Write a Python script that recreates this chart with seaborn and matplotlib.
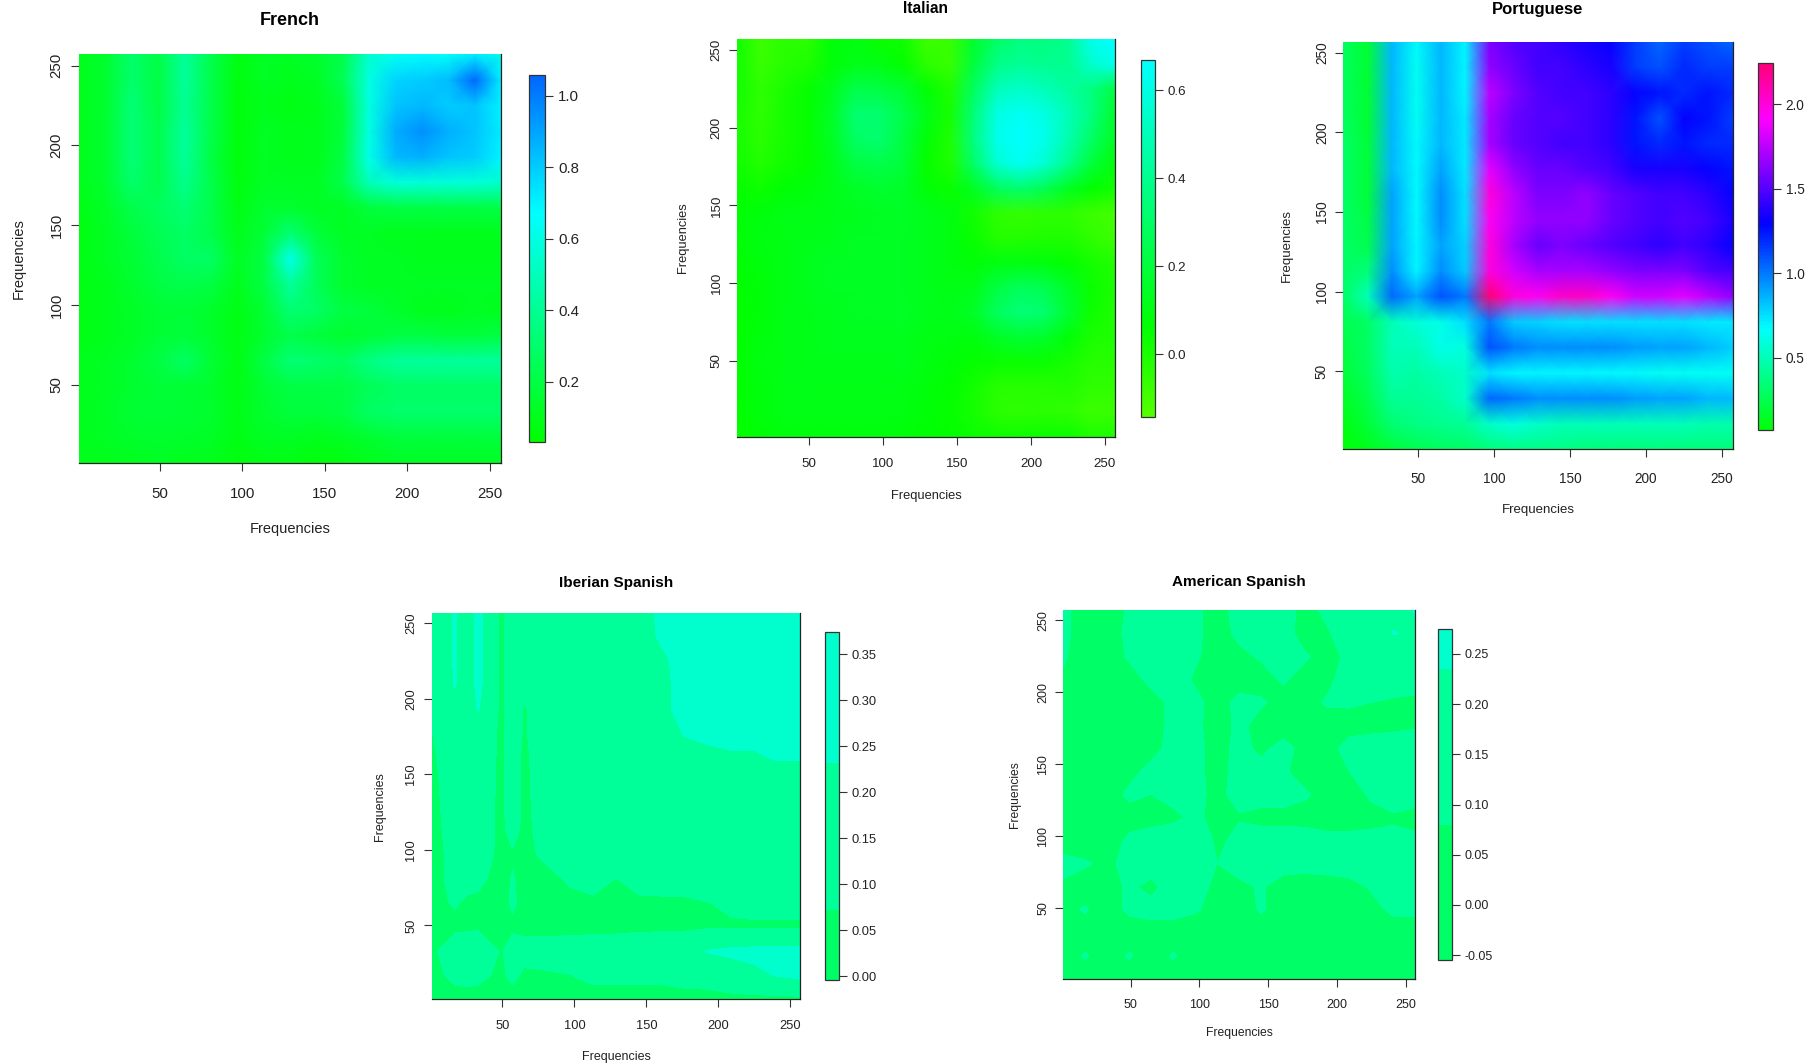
# Five language panels: frequency by frequency matrices
import numpy as np
import pandas as pd
import matplotlib
matplotlib.use("Agg")
import matplotlib.pyplot as plt
import seaborn as sns
from matplotlib.colors import BoundaryNorm, LinearSegmentedColormap, ListedColormap, hsv_to_rgb

# grid nodes, same on both axes
freqs = [1, 17, 33, 49, 65, 81, 97, 113, 129, 145, 161, 177, 193, 209, 225, 241, 257]
# the Iberian panel has two more columns for its narrow stripes
iberian_freqs = [1, 17, 25, 33, 49, 57, 65, 81, 97, 113, 129, 145, 161, 177, 193, 209, 225, 241, 257]
freq_ticks = [50, 100, 150, 200, 250]

# rows run from the lowest frequency up
french = [
    [.10, .10, .10, .12, .10, .10, .07, .08, .08, .06, .07, .10, .12, .12, .12, .12, .12],
    [.10, .12, .14, .15, .14, .13, .08, .12, .12, .10, .12, .15, .18, .18, .18, .18, .18],
    [.10, .13, .16, .17, .16, .15, .09, .15, .18, .18, .20, .28, .30, .30, .30, .30, .30],
    [.10, .12, .15, .17, .16, .14, .08, .16, .20, .20, .20, .25, .28, .28, .28, .28, .28],
    [.10, .12, .15, .20, .28, .17, .08, .20, .32, .30, .27, .36, .42, .42, .42, .42, .42],
    [.08, .10, .13, .16, .18, .14, .08, .15, .22, .18, .15, .17, .20, .20, .18, .18, .20],
    [.08, .10, .13, .16, .17, .14, .08, .16, .32, .28, .20, .18, .14, .10, .10, .12, .10],
    [.08, .10, .15, .20, .22, .20, .10, .20, .42, .25, .15, .12, .12, .12, .12, .12, .12],
    [.08, .12, .16, .22, .28, .28, .12, .20, .62, .25, .15, .12, .12, .10, .10, .10, .10],
    [.07, .12, .18, .24, .28, .22, .10, .17, .32, .18, .12, .12, .10, .10, .10, .10, .10],
    [.08, .13, .22, .26, .32, .22, .08, .15, .15, .12, .12, .18, .20, .20, .20, .20, .20],
    [.10, .15, .30, .22, .38, .22, .07, .12, .12, .12, .22, .50, .58, .58, .58, .58, .55],
    [.10, .15, .33, .22, .42, .20, .06, .12, .10, .10, .20, .62, .85, .87, .82, .80, .70],
    [.10, .15, .33, .22, .42, .22, .06, .12, .10, .10, .18, .60, .88, .95, .87, .82, .72],
    [.10, .15, .33, .20, .40, .22, .06, .10, .08, .10, .18, .60, .82, .85, .80, .82, .70],
    [.10, .15, .30, .20, .42, .22, .07, .12, .10, .12, .24, .60, .78, .80, .84, 1.05, .72],
    [.10, .15, .30, .20, .42, .22, .08, .12, .12, .15, .22, .55, .64, .68, .65, .72, .62],
]

italian = [
    [.05, .07, .09, .09, .09, .09, .09, .08, .07, .06, .04, .03, .03, .04, .04, .00, .00],
    [.06, .09, .11, .11, .11, .11, .11, .10, .08, .05, .01, -.04, -.05, -.04, -.05, -.08, -.07],
    [.06, .09, .11, .12, .11, .11, .11, .11, .09, .06, .02, -.03, -.03, -.03, -.02, -.05, -.05],
    [.06, .10, .11, .12, .12, .12, .12, .13, .10, .08, .05, .04, .04, .04, .01, -.03, -.03],
    [.06, .09, .11, .12, .13, .13, .13, .13, .11, .10, .09, .15, .18, .16, .08, .00, -.01],
    [.06, .08, .11, .12, .13, .14, .14, .15, .13, .12, .15, .28, .34, .32, .18, .03, -.01],
    [.06, .08, .11, .13, .14, .14, .14, .14, .13, .11, .12, .22, .28, .25, .15, .04, .00],
    [.07, .09, .11, .13, .14, .14, .14, .14, .13, .10, .08, .10, .10, .09, .06, .01, -.02],
    [.08, .10, .11, .12, .13, .14, .14, .14, .13, .10, .04, -.02, -.02, -.01, -.01, -.05, -.08],
    [.07, .09, .11, .11, .12, .13, .14, .15, .13, .10, .02, -.05, -.06, -.05, -.05, -.08, -.10],
    [.05, .03, .07, .09, .12, .15, .17, .16, .08, .04, .14, .28, .32, .26, .14, .06, .02],
    [.02, -.02, .02, .05, .12, .22, .24, .20, .05, -.01, .30, .56, .64, .56, .40, .20, .08],
    [.01, -.04, .01, .05, .14, .30, .32, .22, .08, -.01, .36, .62, .67, .62, .48, .30, .14],
    [.01, -.05, .01, .05, .15, .32, .32, .24, .12, .01, .34, .60, .64, .60, .50, .36, .16],
    [.02, -.05, .00, .05, .13, .24, .22, .18, .07, -.01, .28, .50, .54, .50, .44, .36, .22],
    [.02, -.07, -.03, -.01, .08, .12, .11, .06, -.04, -.07, .20, .38, .42, .40, .40, .55, .62],
    [.03, -.08, -.04, -.04, .08, .10, .04, .03, -.08, -.07, .16, .30, .36, .36, .40, .62, .67],
]

portuguese = [
    [.08, .12, .20, .25, .28, .30, .35, .38, .38, .38, .35, .35, .35, .35, .35, .35, .35],
    [.10, .20, .33, .38, .40, .42, .55, .60, .55, .50, .50, .50, .50, .50, .50, .48, .48],
    [.15, .25, .42, .42, .45, .55, 1.05, 1.00, .95, .95, .95, .95, .92, .90, .90, .85, .85],
    [.20, .28, .48, .45, .50, .55, .75, .70, .70, .70, .70, .68, .68, .65, .65, .65, .65],
    [.22, .30, .50, .50, .62, .60, 1.10, 1.00, .95, .95, .95, .95, .92, .90, .90, .85, .80],
    [.25, .30, .50, .58, .62, .75, 1.00, .80, .78, .75, .75, .75, .75, .75, .75, .72, .72],
    [.30, .50, 1.05, .90, 1.10, 1.00, 2.25, 2.00, 1.95, 2.05, 2.05, 1.95, 1.80, 1.80, 1.85, 1.75, 1.65],
    [.30, .35, .95, .70, .95, .80, 2.00, 1.80, 1.70, 1.70, 1.70, 1.65, 1.60, 1.60, 1.60, 1.50, 1.45],
    [.30, .25, .90, .70, .90, .78, 2.00, 1.70, 1.55, 1.60, 1.55, 1.50, 1.45, 1.40, 1.45, 1.40, 1.30],
    [.30, .22, .90, .68, .95, .75, 1.95, 1.75, 1.65, 1.65, 1.65, 1.55, 1.50, 1.45, 1.50, 1.45, 1.35],
    [.30, .20, .90, .68, .95, .75, 2.00, 1.75, 1.60, 1.60, 1.65, 1.55, 1.50, 1.45, 1.45, 1.40, 1.30],
    [.30, .20, .85, .68, .90, .72, 1.85, 1.65, 1.55, 1.55, 1.50, 1.45, 1.35, 1.35, 1.35, 1.30, 1.25],
    [.30, .20, .85, .68, .85, .72, 1.70, 1.55, 1.50, 1.45, 1.45, 1.40, 1.25, 1.20, 1.25, 1.20, 1.20],
    [.28, .18, .85, .65, .85, .72, 1.70, 1.55, 1.50, 1.50, 1.45, 1.40, 1.25, 1.10, 1.30, 1.25, 1.15],
    [.28, .18, .85, .65, .85, .70, 1.75, 1.60, 1.50, 1.45, 1.45, 1.40, 1.30, 1.25, 1.20, 1.25, 1.20],
    [.28, .18, .85, .65, .85, .70, 1.65, 1.55, 1.45, 1.45, 1.40, 1.35, 1.15, 1.10, 1.20, 1.15, 1.15],
    [.28, .18, .85, .68, .85, .70, 1.60, 1.50, 1.45, 1.40, 1.35, 1.30, 1.15, 1.05, 1.15, 1.10, 1.05],
]

iberian = [
    [.03, .03, .03, .03, .03, .03, .03, .03, .03, .03, .03, .03, .03, .03, .03, .04, .04, .04, .04],
    [.04, .10, .11, .10, .05, .10, .05, .06, .07, .10, .10, .10, .10, .12, .13, .16, .20, .24, .27],
    [.05, .14, .16, .20, .06, .13, .12, .12, .13, .14, .15, .15, .16, .18, .24, .26, .27, .27, .27],
    [.04, .05, .05, .05, .03, .05, .04, .04, .04, .04, .04, .05, .05, .05, .06, .06, .06, .06, .06],
    [.05, .08, .06, .05, .03, .09, .04, .04, .04, .05, .05, .05, .05, .05, .07, .09, .10, .10, .10],
    [.04, .10, .10, .10, .03, .08, .04, .04, .09, .12, .07, .12, .13, .14, .14, .15, .15, .15, .15],
    [.04, .10, .11, .12, .05, .06, .04, .10, .11, .12, .13, .14, .14, .15, .15, .15, .15, .15, .15],
    [.05, .10, .12, .13, .05, .11, .05, .11, .12, .13, .14, .14, .15, .15, .15, .15, .15, .15, .15],
    [.05, .11, .12, .13, .05, .12, .05, .12, .13, .14, .15, .15, .15, .15, .15, .15, .15, .15, .15],
    [.05, .12, .13, .14, .05, .12, .05, .13, .14, .14, .15, .15, .15, .16, .16, .16, .16, .18, .18],
    [.06, .12, .14, .15, .05, .12, .05, .14, .14, .15, .15, .15, .16, .18, .20, .22, .22, .24, .24],
    [.07, .13, .14, .16, .05, .13, .06, .14, .15, .15, .15, .16, .18, .24, .26, .26, .26, .26, .26],
    [.08, .14, .14, .24, .05, .13, .06, .14, .15, .15, .15, .16, .20, .28, .29, .29, .29, .29, .29],
    [.08, .24, .14, .27, .05, .13, .12, .14, .15, .15, .15, .16, .20, .28, .29, .29, .29, .29, .29],
    [.08, .25, .14, .27, .05, .13, .12, .14, .15, .15, .15, .18, .21, .28, .29, .29, .29, .29, .29],
    [.08, .25, .14, .27, .05, .13, .12, .14, .15, .15, .15, .18, .25, .28, .29, .29, .29, .29, .29],
    [.08, .25, .14, .27, .05, .13, .12, .14, .15, .15, .15, .18, .26, .28, .29, .29, .29, .29, .29],
]

american = [
    [.05, .03, .03, .03, .03, .03, .03, .03, .03, .03, .03, .03, .03, .03, .03, .04, .04],
    [.03, .09, .03, .09, .03, .09, .03, .03, .03, .03, .03, .03, .03, .03, .04, .05, .04],
    [.03, .03, .03, .03, .03, .03, .03, .03, .03, .03, .03, .03, .03, .03, .03, .03, .03],
    [.05, .09, .03, .10, .12, .12, .09, .05, .04, .09, .04, .03, .03, .03, .05, .10, .10],
    [.07, .04, .03, .10, .05, .14, .13, .05, .06, .09, .04, .04, .04, .05, .09, .12, .12],
    [.10, .09, .06, .11, .14, .20, .13, .08, .12, .13, .12, .11, .12, .13, .13, .14, .14],
    [.05, .03, .03, .10, .12, .14, .20, .05, .12, .13, .13, .12, .10, .10, .10, .10, .10],
    [.05, .03, .03, .04, .05, .06, .10, .05, .07, .05, .05, .05, .05, .05, .06, .07, .05],
    [.05, .03, .03, .10, .08, .11, .11, .05, .12, .12, .12, .09, .05, .05, .09, .12, .12],
    [.05, .03, .03, .05, .11, .12, .11, .04, .12, .11, .09, .05, .05, .08, .10, .10, .10],
    [.07, .03, .03, .03, .05, .11, .11, .04, .11, .06, .11, .05, .05, .11, .13, .13, .13],
    [.05, .03, .03, .03, .05, .10, .10, .04, .10, .05, .04, .04, .04, .05, .05, .06, .07],
    [.05, .03, .03, .03, .05, .10, .10, .05, .10, .09, .05, .05, .09, .09, .08, .07, .06],
    [.07, .04, .04, .05, .10, .12, .07, .04, .05, .05, .09, .05, .06, .12, .12, .12, .12],
    [.09, .04, .04, .09, .12, .12, .09, .05, .06, .09, .12, .09, .05, .10, .14, .14, .14],
    [.10, .04, .04, .10, .12, .12, .10, .04, .10, .13, .12, .04, .07, .14, .14, .24, .22],
    [.10, .04, .04, .09, .12, .12, .10, .04, .12, .13, .12, .05, .10, .14, .14, .20, .24],
]

# colour bar ticks
french_ticks = [.2, .4, .6, .8, 1.0]
italian_ticks = [0, .2, .4, .6]
portuguese_ticks = [.5, 1.0, 1.5, 2.0]
iberian_ticks = [0, .05, .10, .15, .20, .25, .30, .35]
american_ticks = [-.05, 0, .05, .10, .15, .20, .25]

french_range = (.03, 1.058)
italian_range = (-.142, .668)
portuguese_range = (.075, 2.247)
# steps of the two flat looking maps
iberian_steps = [-.004, .072, .232, .374]
american_steps = [-.055, .08, .235, .275]
step_colors = ["#00FF66", "#00FF99", "#00FFCC"]

W, H = 1816, 1063
SCALE = 1816 / 1568  # positions below are read at 1568 wide

sns.set_theme(style="white")
plt.rcParams["font.family"] = ["Liberation Sans", "DejaVu Sans"]
fig = plt.figure(figsize=(W / 100, H / 100), dpi=100)


def hue_map(lo, hi):
    hues = np.linspace(lo, hi, 64) / 360
    hsv = np.column_stack([hues, np.ones(64), np.ones(64)])
    return LinearSegmentedColormap.from_list("hues", hsv_to_rgb(hsv))


def to_axes(x0, x1, y0, y1):
    return [x0 * SCALE / W, 1 - y1 * SCALE / H, (x1 - x0) * SCALE / W, (y1 - y0) * SCALE / H]


def to_grid(f):
    return (f - freqs[0]) / (freqs[1] - freqs[0])


def draw_panel(values, title, box, bar, ticks, tick_fmt, pos, sizes, hues=None, limits=None, steps=None, cols=freqs):
    ax = fig.add_axes(to_axes(*box))
    cax = fig.add_axes(to_axes(*bar))
    data = pd.DataFrame(values, index=freqs, columns=cols)
    last = to_grid(freqs[-1])

    if steps is None:
        sns.heatmap(data, ax=ax, cbar_ax=cax, cmap=hue_map(*hues), vmin=limits[0], vmax=limits[1],
                    xticklabels=False, yticklabels=False, shading="gouraud")
    else:
        sns.heatmap(data, ax=ax, cbar_ax=cax, cmap=ListedColormap(step_colors),
                    norm=BoundaryNorm(steps, 3), xticklabels=False, yticklabels=False,
                    cbar_kws={"spacing": "proportional"})
        ax.contourf([to_grid(f) for f in cols], [to_grid(f) for f in freqs], data.values, levels=steps,
                    colors=step_colors, extend="both")

    ax.set_xlim(0, last)
    ax.set_ylim(0, last)
    spots = [to_grid(f) for f in freq_ticks]
    label_size, title_size = sizes
    ax.set_xticks(spots, [str(f) for f in freq_ticks])
    ax.set_yticks(spots, [str(f) for f in freq_ticks], rotation=90, va="center")
    ax.tick_params(length=6, width=0.8, color="#333333", labelsize=label_size + 0.3, labelcolor="#222222",
                   bottom=True, left=True)
    ax.tick_params(axis="x", pad=pos["xpad"])
    ax.tick_params(axis="y", pad=pos["ypad"])
    ax.set_xlabel("")
    ax.set_ylabel("")
    for name in ["top", "left"]:
        ax.spines[name].set_visible(False)
    for name in ["bottom", "right"]:
        ax.spines[name].set_visible(True)
        ax.spines[name].set_color("#222222")
        ax.spines[name].set_linewidth(0.9)

    cb = ax.collections[0].colorbar
    cb.set_ticks(ticks, labels=[tick_fmt.format(t) for t in ticks])
    cb.minorticks_off()
    cb.ax.tick_params(length=6, width=0.8, color="#333333", labelsize=label_size + 0.3,
                      labelcolor="#222222", pad=3, right=True)
    cb.outline.set_visible(True)
    cb.outline.set_linewidth(0.9)
    cb.outline.set_edgecolor("#333333")

    mid = (box[0] + box[1]) / 2 * SCALE / W
    fig.text(mid, 1 - pos["title"] * SCALE / H, title, ha="center", va="center",
             fontsize=title_size, fontweight="bold", color="black")
    fig.text(mid, 1 - pos["xlabel"] * SCALE / H, "Frequencies", ha="center", va="center",
             fontsize=label_size, color="#222222")
    fig.text(pos["ylabel"] * SCALE / W, 1 - (box[2] + box[3]) / 2 * SCALE / H, "Frequencies",
             ha="center", va="center", rotation=90, fontsize=label_size, color="#222222")


draw_panel(french, "French", (68, 433, 47, 400), (457, 471, 65, 382), french_ticks, "{:.1f}",
           {"title": 17.5, "xlabel": 457, "ylabel": 16, "xpad": 11, "ypad": 5}, (10.5, 13),
           hues=(120, 216), limits=french_range)
draw_panel(italian, "Italian", (636, 963, 34, 377), (985, 997, 52, 360), italian_ticks, "{:.1f}",
           {"title": 7, "xlabel": 428, "ylabel": 590, "xpad": 9.5, "ypad": 4}, (9.3, 11.2),
           hues=(100, 180), limits=italian_range)
draw_panel(portuguese, "Portuguese", (1160, 1496, 36, 388), (1518, 1531, 54, 371), portuguese_ticks, "{:.1f}",
           {"title": 8, "xlabel": 440.5, "ylabel": 1111, "xpad": 10, "ypad": 4.5}, (9.5, 12),
           hues=(122, 332), limits=portuguese_range)
draw_panel(iberian, "Iberian Spanish", (373, 691, 529, 863), (712, 724, 546, 846), iberian_ticks, "{:.2f}",
           {"title": 503.5, "xlabel": 912.5, "ylabel": 328, "xpad": 9, "ypad": 4.5}, (9, 11),
           steps=iberian_steps, cols=iberian_freqs)
draw_panel(american, "American Spanish", (918, 1222, 527, 845), (1242, 1254, 543, 829), american_ticks, "{:.2f}",
           {"title": 502.5, "xlabel": 892, "ylabel": 876, "xpad": 9, "ypad": 4}, (8.7, 11), steps=american_steps)

fig.savefig("out.png", dpi=100, facecolor="white")
